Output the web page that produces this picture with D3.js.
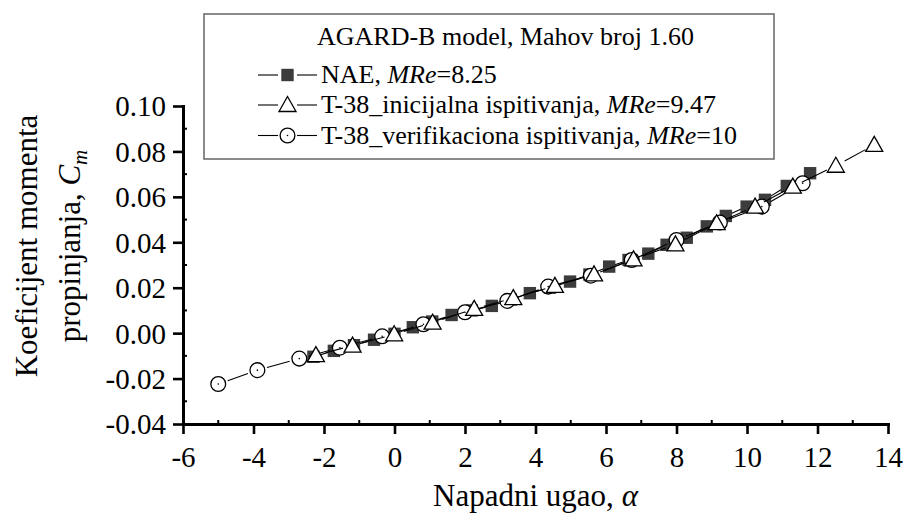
<!DOCTYPE html>
<html>
<head>
<meta charset="utf-8">
<script src="https://cdnjs.cloudflare.com/ajax/libs/d3/7.8.5/d3.min.js"></script>
<style>
body { margin: 0; background: #fff; }
svg text { font-family: "Liberation Serif", "Times New Roman", serif; fill: #000; }
</style>
</head>
<body>
<script>
// NAE, MRe=8.25
var alphaNAE = [-2.30, -1.72, -1.15, -0.58, 0.00, 0.52, 1.07, 1.62, 2.19, 2.76, 3.30, 3.84, 4.41,
                4.98, 5.53, 6.09, 6.64, 7.20, 7.72, 8.29, 8.86, 9.40, 9.99, 10.51, 11.13, 11.79];
var cmNAE = [-0.0104, -0.0078, -0.0053, -0.0029, -0.0003, 0.0026, 0.0051, 0.0080, 0.0100, 0.0120,
             0.0148, 0.0176, 0.0200, 0.0227, 0.0258, 0.0293, 0.0322, 0.0350, 0.0389, 0.0420,
             0.0470, 0.0516, 0.0557, 0.0587, 0.0648, 0.0704];

// T-38 inicijalna ispitivanja, MRe=9.47
var alphaIni = [-2.23, -1.19, -0.01, 1.08, 2.26, 3.37, 4.55, 5.66, 6.78, 7.97, 9.14, 10.23, 11.30, 12.52, 13.61];
var cmIni = [-0.0097, -0.0055, -0.0005, 0.0046, 0.0107, 0.0154, 0.0208, 0.0259, 0.0325, 0.0391,
             0.0484, 0.0557, 0.0645, 0.0737, 0.0829];

// T-38 verifikaciona ispitivanja, MRe=10
var alphaVer = [-5.00, -3.89, -2.70, -1.55, -0.35, 0.82, 2.00, 3.20, 4.36, 5.57, 6.73, 8.00, 9.23, 10.42, 11.58];
var cmVer = [-0.0224, -0.0163, -0.0112, -0.0064, -0.0014, 0.0039, 0.0092, 0.0142, 0.0205, 0.0253,
             0.0322, 0.0410, 0.0487, 0.0557, 0.0660];

var xTicks = [-6, -4, -2, 0, 2, 4, 6, 8, 10, 12, 14];
var yTicks = [-0.04, -0.02, 0.00, 0.02, 0.04, 0.06, 0.08, 0.10];

var width = 906, height = 516;

var svg = d3.select("body").append("svg")
    .attr("width", width)
    .attr("height", height);

var x = d3.scaleLinear().domain([-6, 14]).range([183, 888]);
var y = d3.scaleLinear().domain([-0.04, 0.10]).range([424, 106]);

function zipPts(a, b) {
    return a.map(function (v, i) { return [v, b[i]]; });
}

// line between symbols, with a small gap round each symbol
function gappedLine(g, pts, gap, sx, sy) {
    g.selectAll("line.seg")
        .data(d3.pairs(pts))
        .join("line")
        .attr("class", "seg")
        .each(function (p) {
            var x1 = sx(p[0][0]), y1 = sy(p[0][1]), x2 = sx(p[1][0]), y2 = sy(p[1][1]);
            var dx = x2 - x1, dy = y2 - y1, len = Math.sqrt(dx * dx + dy * dy);
            var k = len > 2 * gap ? gap / len : 0.5;
            d3.select(this)
                .attr("x1", x1 + dx * k).attr("y1", y1 + dy * k)
                .attr("x2", x2 - dx * k).attr("y2", y2 - dy * k);
        })
        .attr("stroke", "#000")
        .attr("stroke-width", 1.1);
}

var triPath = "M0,-8.5L8.5,6.5L-8.5,6.5Z";

function drawSquare(g) {
    g.append("rect").attr("x", -6.2).attr("y", -6.2).attr("width", 12.4).attr("height", 12.4)
        .attr("fill", "#3c3c3c");
}
function drawTriangle(g) {
    g.append("path").attr("d", triPath)
        .attr("fill", "#fff").attr("stroke", "#000").attr("stroke-width", 1.3);
}
function drawCircle(g) {
    g.append("circle").attr("r", 7.4)
        .attr("fill", "#fff").attr("stroke", "#000").attr("stroke-width", 1.3);
    g.append("circle").attr("r", 0.8).attr("fill", "#000");
}

var series = [
    { pts: zipPts(alphaNAE, cmNAE), gap: 6, draw: drawSquare },
    { pts: zipPts(alphaVer, cmVer), gap: 10, draw: drawCircle },
    { pts: zipPts(alphaIni, cmIni), gap: 10, draw: drawTriangle }
];

var plot = svg.append("g").attr("id", "plot");
series.forEach(function (s) {
    var g = plot.append("g");
    gappedLine(g.append("g"), s.pts, s.gap, x, y);
    g.selectAll("g.sym")
        .data(s.pts)
        .join("g")
        .attr("class", "sym")
        .attr("transform", function (d) { return "translate(" + x(d[0]) + "," + y(d[1]) + ")"; })
        .each(function () { s.draw(d3.select(this)); });
});

// axes
function fmtY(v) { return d3.format(".2f")(v).replace("\u2212", "-"); }
function fmtX(v) { return String(v); }

var xAxis = svg.append("g").attr("transform", "translate(0," + y(-0.04) + ")")
    .call(d3.axisBottom(x).tickValues(xTicks).tickFormat(fmtX).tickSize(10).tickSizeOuter(0));
var yAxis = svg.append("g").attr("transform", "translate(" + x(-6) + ",0)")
    .call(d3.axisLeft(y).tickValues(yTicks).tickFormat(fmtY).tickSize(10).tickSizeOuter(0));

[xAxis, yAxis].forEach(function (ax) {
    ax.select(".domain").attr("stroke", "#000").attr("stroke-width", 3).attr("stroke-linecap", "square");
    ax.selectAll(".tick line").attr("stroke", "#000").attr("stroke-width", 2.6);
    ax.selectAll(".tick text").attr("font-family", "Liberation Serif").attr("font-size", 29).attr("fill", "#000");
});
xAxis.selectAll(".tick text").attr("y", 0).attr("dy", 0).attr("transform", "translate(0,43)");
yAxis.selectAll(".tick text").attr("x", -17).attr("dy", "0.34em");

// minor ticks (inside)
var minorX = d3.range(-5, 14, 2);
var minorY = d3.range(-0.03, 0.1, 0.02);
svg.append("g").selectAll("line").data(minorX).join("line")
    .attr("x1", function (d) { return x(d); }).attr("x2", function (d) { return x(d); })
    .attr("y1", y(-0.04)).attr("y2", y(-0.04) - 4)
    .attr("stroke", "#000").attr("stroke-width", 2);
svg.append("g").selectAll("line").data(minorY).join("line")
    .attr("y1", function (d) { return y(d); }).attr("y2", function (d) { return y(d); })
    .attr("x1", x(-6)).attr("x2", x(-6) + 4)
    .attr("stroke", "#000").attr("stroke-width", 2);

// axis titles
var xt = svg.append("text")
    .attr("x", (x(-6) + x(14)) / 2).attr("y", 506)
    .attr("text-anchor", "middle").attr("font-size", 31);
xt.append("tspan").text("Napadni ugao, ");
xt.append("tspan").attr("font-style", "italic").text("\u03b1");

var yc = 246;
svg.append("text")
    .attr("transform", "translate(37," + yc + ") rotate(-90)")
    .attr("text-anchor", "middle").attr("font-size", 31)
    .text("Koeficijent momenta");
var yt2 = svg.append("text")
    .attr("transform", "translate(80," + yc + ") rotate(-90)")
    .attr("text-anchor", "middle").attr("font-size", 31);
yt2.append("tspan").text("propinjanja, ");
yt2.append("tspan").attr("font-style", "italic").text("C");
yt2.append("tspan").attr("font-style", "italic").attr("font-size", 21).attr("dy", 7).text("m");

// legend
var legend = svg.append("g").attr("id", "legend");
legend.append("rect")
    .attr("x", 204).attr("y", 14).attr("width", 570).attr("height", 145)
    .attr("fill", "#fff").attr("stroke", "#6e6e6e").attr("stroke-width", 1.6);

legend.append("text")
    .attr("x", 317).attr("y", 45)
    .attr("font-size", 26)
    .text("AGARD-B model, Mahov broj 1.60");

var legendRows = [
    { pre: "NAE, ", val: "=8.25", draw: drawSquare },
    { pre: "T-38_inicijalna ispitivanja, ", val: "=9.47", draw: drawTriangle },
    { pre: "T-38_verifikaciona ispitivanja, ", val: "=10", draw: drawCircle }
];
var rowBase = [83, 113, 143.5];

legendRows.forEach(function (r, i) {
    var cy = rowBase[i] - 8;
    var g = legend.append("g");
    g.append("line").attr("x1", 258).attr("x2", 278).attr("y1", cy).attr("y2", cy)
        .attr("stroke", "#000").attr("stroke-width", 1.1);
    g.append("line").attr("x1", 297).attr("x2", 317).attr("y1", cy).attr("y2", cy)
        .attr("stroke", "#000").attr("stroke-width", 1.1);
    var sym = g.append("g").attr("transform", "translate(287.5," + cy + ")");
    r.draw(sym);
    var t = g.append("text")
        .attr("x", 321).attr("y", rowBase[i])
        .attr("font-size", 26);
    t.append("tspan").text(r.pre);
    t.append("tspan").attr("font-style", "italic").text("MRe");
    t.append("tspan").text(r.val);
});
</script>
</body>
</html>
